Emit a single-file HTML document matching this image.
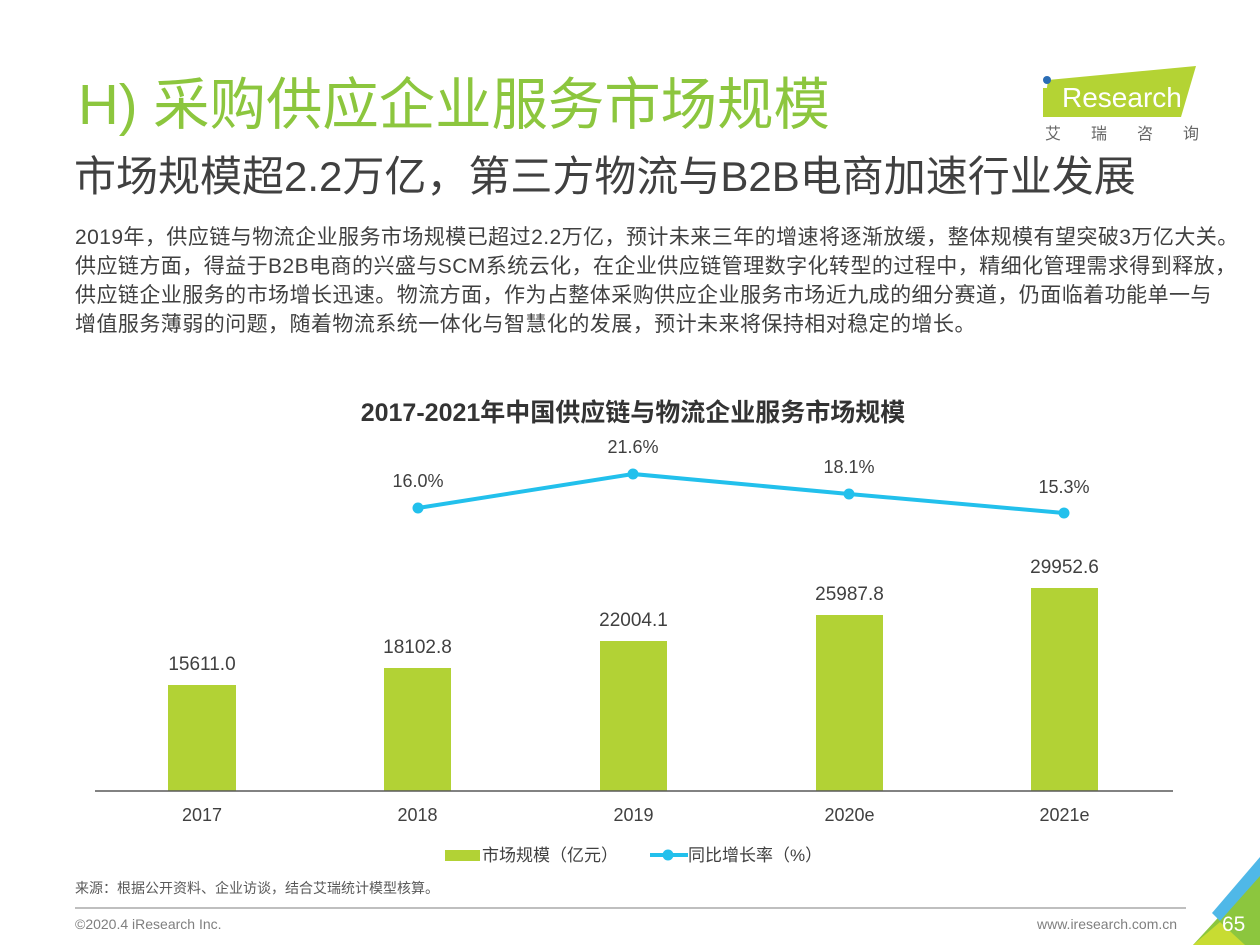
<!DOCTYPE html>
<html>
<head>
<meta charset="utf-8">
<style>
  html,body{margin:0;padding:0;}
  body{width:1260px;height:945px;position:relative;overflow:hidden;background:#fff;
    font-family:"Liberation Sans","Noto Sans CJK SC",sans-serif;}
  .abs{position:absolute;white-space:nowrap;}
  .title{left:78px;top:74px;font-size:56.4px;line-height:62px;color:#8cc63e;}
  .sub{left:74px;top:153px;font-size:42px;line-height:48px;color:#404040;}
  .p{left:75px;font-size:21px;line-height:28px;color:#404040;letter-spacing:0.45px;}
  .src{left:75px;top:879px;font-size:14px;line-height:18px;color:#595959;}
  .foot{top:915px;font-size:14px;line-height:18px;color:#7f7f7f;}
</style>
</head>
<body>
<div class="abs title">H) 采购供应企业服务市场规模</div>
<div class="abs sub">市场规模超2.2万亿，第三方物流与B2B电商加速行业发展</div>
<div class="abs p" style="top:224px;">2019年，供应链与物流企业服务市场规模已超过2.2万亿，预计未来三年的增速将逐渐放缓，整体规模有望突破3万亿大关。</div>
<div class="abs p" style="top:253px;">供应链方面，得益于B2B电商的兴盛与SCM系统云化，在企业供应链管理数字化转型的过程中，精细化管理需求得到释放，</div>
<div class="abs p" style="top:282px;">供应链企业服务的市场增长迅速。物流方面，作为占整体采购供应企业服务市场近九成的细分赛道，仍面临着功能单一与</div>
<div class="abs p" style="top:311px;">增值服务薄弱的问题，随着物流系统一体化与智慧化的发展，预计未来将保持相对稳定的增长。</div>

<div class="abs src">来源：根据公开资料、企业访谈，结合艾瑞统计模型核算。</div>
<div class="abs foot" style="left:75px;">©2020.4 iResearch Inc.</div>
<div class="abs foot" style="left:1037px;">www.iresearch.com.cn</div>

<svg class="abs" style="left:0;top:0;" width="1260" height="945" xmlns="http://www.w3.org/2000/svg">
  <!-- logo -->
  <polygon points="1048,80 1196,66 1181,117 1043,117" fill="#b4d334"/>
  <rect x="1043" y="88" width="7" height="29" fill="#b4d334"/>
  <circle cx="1047" cy="80" r="4" fill="#2a6db5"/>
  <text x="1062" y="107" font-family="Liberation Sans, sans-serif" font-size="28" fill="#fff">Research</text>
  <text x="1045" y="139" font-family="Liberation Sans, Noto Sans CJK SC, sans-serif" font-size="16" fill="#666" letter-spacing="30">艾瑞咨询</text>

  <!-- chart title -->
  <text x="633" y="421" text-anchor="middle" font-family="Liberation Sans, Noto Sans CJK SC, sans-serif" font-size="25" font-weight="bold" fill="#333">2017-2021年中国供应链与物流企业服务市场规模</text>

  <!-- bars -->
  <g fill="#b2d235">
    <rect x="168" y="685" width="68" height="106"/>
    <rect x="384" y="668" width="67" height="123"/>
    <rect x="600" y="641" width="67" height="150"/>
    <rect x="816" y="615" width="67" height="176"/>
    <rect x="1031" y="588" width="67" height="203"/>
  </g>
  <line x1="95" y1="791" x2="1173" y2="791" stroke="#595959" stroke-width="1.5"/>

  <g font-family="Liberation Sans, sans-serif" font-size="19" fill="#404040" text-anchor="middle">
    <text x="202" y="670">15611.0</text>
    <text x="417.5" y="653">18102.8</text>
    <text x="633.5" y="626">22004.1</text>
    <text x="849.5" y="600">25987.8</text>
    <text x="1064.5" y="573">29952.6</text>
  </g>
  <g font-family="Liberation Sans, sans-serif" font-size="18" fill="#404040" text-anchor="middle">
    <text x="418" y="487">16.0%</text>
    <text x="633" y="453">21.6%</text>
    <text x="849" y="473">18.1%</text>
    <text x="1064" y="493">15.3%</text>

    <text x="202" y="821">2017</text>
    <text x="417.5" y="821">2018</text>
    <text x="633.5" y="821">2019</text>
    <text x="849.5" y="821">2020e</text>
    <text x="1064.5" y="821">2021e</text>
  </g>

  <!-- line -->
  <polyline points="418,508 633,474 849,494 1064,513" fill="none" stroke="#22c0ec" stroke-width="4"/>
  <g fill="#22c0ec">
    <circle cx="418" cy="508" r="5.5"/>
    <circle cx="633" cy="474" r="5.5"/>
    <circle cx="849" cy="494" r="5.5"/>
    <circle cx="1064" cy="513" r="5.5"/>
  </g>

  <!-- legend -->
  <rect x="445" y="850" width="35" height="11" fill="#b2d235"/>
  <text x="482" y="861" font-family="Liberation Sans, Noto Sans CJK SC, sans-serif" font-size="17" fill="#404040">市场规模（亿元）</text>
  <line x1="650" y1="855" x2="688" y2="855" stroke="#22c0ec" stroke-width="4"/>
  <circle cx="668" cy="855" r="5.5" fill="#22c0ec"/>
  <text x="688" y="861" font-family="Liberation Sans, Noto Sans CJK SC, sans-serif" font-size="17" fill="#404040">同比增长率（%）</text>

  <!-- footer line -->
  <line x1="75" y1="908" x2="1186" y2="908" stroke="#7f7f7f" stroke-width="1"/>

  <!-- corner decoration -->
  <polygon points="1260,872 1260,945 1193,945" fill="#8cc63e"/>
  <polygon points="1193,945 1245,945 1220,922" fill="#c8dc32"/>
  <polygon points="1260,857 1260,876 1220,921 1212,913" fill="#4fb8e8"/>
  <text x="1222" y="931" font-family="Liberation Sans, sans-serif" font-size="21" fill="#fff">65</text>
</svg>
</body>
</html>
